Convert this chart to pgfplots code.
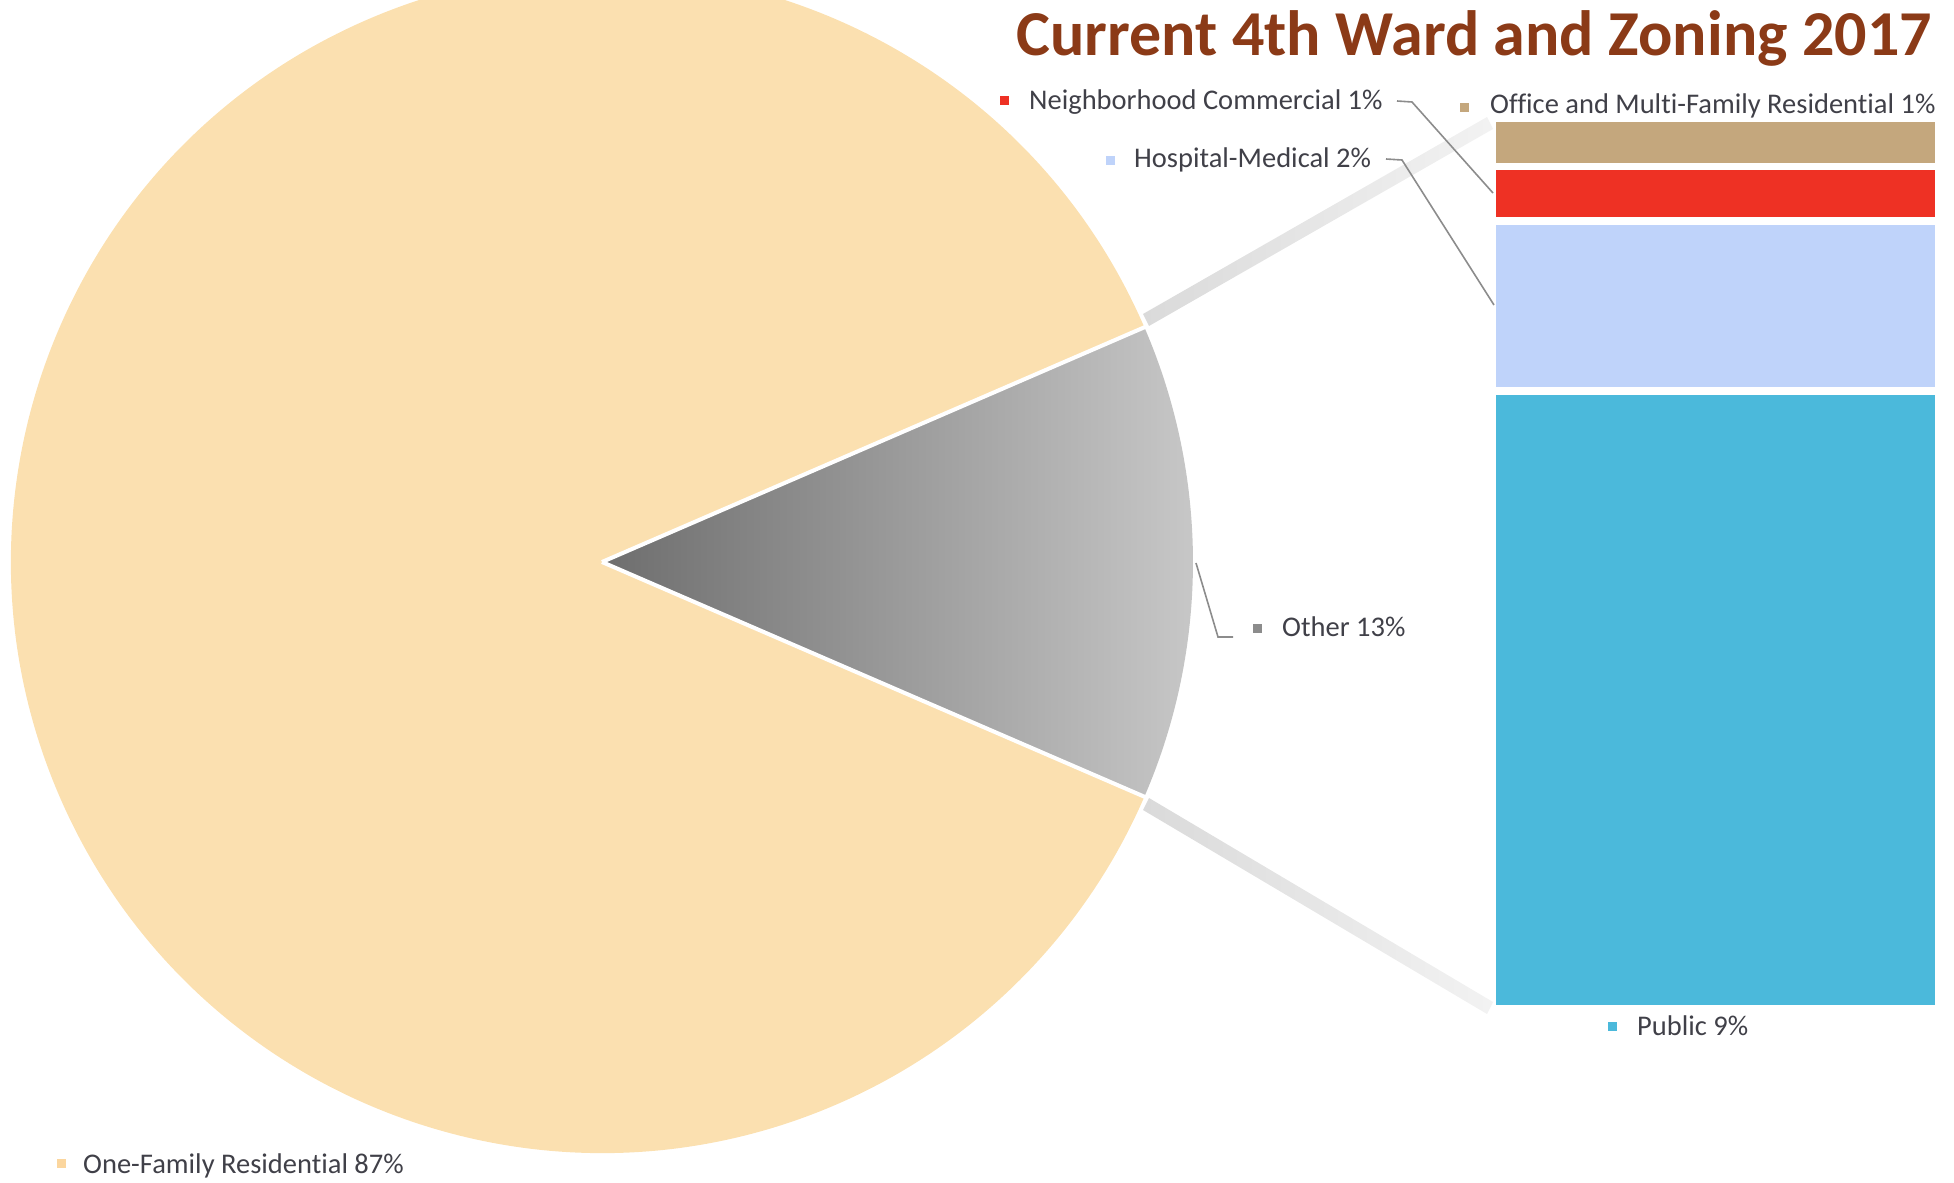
\documentclass[border=0pt]{standalone}
\usepackage{fontspec}
\setmainfont{Carlito}[Ligatures=CommonOff]
\usepackage{pgfplots}
\pgfplotsset{compat=1.18}
\definecolor{peach}{HTML}{FBE0B0}
\definecolor{tanc}{HTML}{C4A77D}
\definecolor{redc}{HTML}{EE3124}
\definecolor{lblue}{HTML}{BFD3FA}
\definecolor{pub}{HTML}{4BB9DB}
\definecolor{txt}{HTML}{404048}
\definecolor{ttl}{HTML}{8B3A17}
\definecolor{band}{HTML}{DADADA}
\definecolor{lead}{HTML}{8C8C8C}
\tikzset{lbl/.style={anchor=base west,text=txt,font=\fontsize{28.5bp}{34bp}\selectfont,inner sep=0pt}}
\begin{document}
\begin{tikzpicture}
\path[use as bounding box] (0,0) rectangle (1954bp,1183bp);
% pie data (percent)
\def\pOne{87}
\def\pOther{13}
\pgfmathsetmacro\ha{\pOther*1.8}
\pgfmathsetmacro\hb{360-\pOther*1.8}
% breakdown of "Other" (bar of pie)
\begin{axis}[at={(1492.25bp,174.5bp)},anchor=south west,scale only axis,
  width=446bp,height=890bp,xmin=0,xmax=1,ymin=0,ymax=13,hide axis,
  ybar stacked,bar width=446bp,clip=false]
\addplot[fill=pub,draw=white,line width=7.5bp] coordinates {(0.5,9.02)};
\addplot[fill=lblue,draw=white,line width=7.5bp] coordinates {(0.5,2.48)};
\addplot[fill=redc,draw=white,line width=7.5bp] coordinates {(0.5,0.80)};
\addplot[fill=tanc,draw=white,line width=7.5bp] coordinates {(0.5,0.70)};
\end{axis}
\begin{axis}[x=1bp,y=1bp,xmin=0,xmax=1954,ymin=0,ymax=1183,hide axis,
  anchor=origin,at={(0,0)},clip=true]
% One-Family slice
\fill[peach] (axis cs:602,621) -- ++(\ha:591bp) arc[start angle=\ha,end angle=\hb,radius=591bp] -- cycle;
% Other slice
\shade[left color=black!57,right color=black!21] (axis cs:602,621) -- ++(-\ha:591bp) arc[start angle=-\ha,end angle=\ha,radius=591bp] -- cycle;
\draw[white,line width=4bp] (axis cs:602,621) -- ++(\ha:600bp);
\draw[white,line width=4bp] (axis cs:602,621) -- ++(-\ha:600bp);
% connector bands
\shade[left color=band,right color=black!5] (axis cs:1149,857) -- (axis cs:1493,1054) -- (axis cs:1487,1066) -- (axis cs:1143,869) -- cycle;
\shade[left color=band,right color=black!5] (axis cs:1143,373) -- (axis cs:1487,169) -- (axis cs:1493,181) -- (axis cs:1149,385) -- cycle;
% leader lines
\addplot[lead,line width=1.6bp] coordinates {(1397,1082) (1412,1081) (1493,990)};
\addplot[lead,line width=1.6bp] coordinates {(1386,1024) (1402,1023) (1494,878)};
\addplot[lead,line width=1.6bp] coordinates {(1196,620) (1218,546) (1233,546)};
% legend markers
\addplot[only marks,mark=square*,mark size=4bp,mark options={draw=redc,fill=redc}] coordinates {(1004,1083)};
\addplot[only marks,mark=square*,mark size=4bp,mark options={draw=tanc,fill=tanc}] coordinates {(1464,1076)};
\addplot[only marks,mark=square*,mark size=4bp,mark options={draw=lblue,fill=lblue}] coordinates {(1110,1023)};
\addplot[only marks,mark=square*,mark size=4bp,mark options={draw=black!45,fill=black!45}] coordinates {(1257,555)};
\addplot[only marks,mark=square*,mark size=4bp,mark options={draw=pub,fill=pub}] coordinates {(1612,157)};
\addplot[only marks,mark=square*,mark size=4bp,mark options={draw=peach!90!orange,fill=peach!90!orange}] coordinates {(61,20)};
% labels
\node[lbl] at (axis cs:1029,1073) {Neighborhood Commercial 1\%};
\node[lbl] at (axis cs:1490,1069) {Office and Multi-Family Residential 1\%};
\node[lbl] at (axis cs:1134,1015) {Hospital-Medical 2\%};
\node[lbl] at (axis cs:1282,546) {Other 13\%};
\node[lbl] at (axis cs:1637,148) {Public 9\%};
\node[lbl] at (axis cs:83,10) {One-Family Residential 87\%};
\node[anchor=base east,text=ttl,font=\fontsize{64bp}{70bp}\selectfont\bfseries,inner sep=0pt] at (axis cs:1932,1127) {Current 4th Ward and Zoning 2017};
\end{axis}
\end{tikzpicture}
\end{document}
